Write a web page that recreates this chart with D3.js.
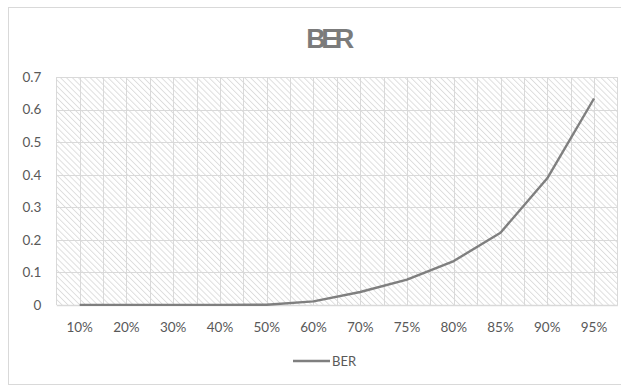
<!DOCTYPE html>
<html>
<head>
<meta charset="utf-8">
<script src="https://cdn.jsdelivr.net/npm/d3@7"></script>
<style>
  html, body { margin: 0; padding: 0; background: #fff; }
  svg { display: block; }
</style>
</head>
<body>
<svg id="chart" width="621" height="386"></svg>
<script>
// Bit error rate against load level
const categories = ["10%", "20%", "30%", "40%", "50%", "60%", "70%", "75%", "80%", "85%", "90%", "95%"];
const berValues = [0.0005, 0.0005, 0.0005, 0.0005, 0.0008, 0.011, 0.04, 0.078, 0.135, 0.222, 0.389, 0.634];
const yTicks = [0, 0.1, 0.2, 0.3, 0.4, 0.5, 0.6, 0.7];
const seriesName = "BER";

const svg = d3.select("#chart");
const plot = { left: 56.3, right: 617.4, top: 77, bottom: 305 };
const font = "Lato, 'Liberation Sans', sans-serif";
const textColor = "#595959";
const gridColor = "#d9d9d9";

// chart frame (runs past the right edge)
svg.append("rect")
  .attr("x", 8.5).attr("y", 7.5)
  .attr("width", 620).attr("height", 377)
  .attr("fill", "#fff").attr("stroke", "#d9d9d9").attr("stroke-width", 1);

// diagonal hatch fill
const defs = svg.append("defs");
const pat = defs.append("pattern")
  .attr("id", "hatch")
  .attr("patternUnits", "userSpaceOnUse")
  .attr("width", 4.2).attr("height", 4.2)
  .attr("patternTransform", "rotate(-45)");
pat.append("rect").attr("width", 4.2).attr("height", 4.2).attr("fill", "#fff");
pat.append("line")
  .attr("x1", 0).attr("y1", 0).attr("x2", 0).attr("y2", 4.2)
  .attr("stroke", "#dcdcdc").attr("stroke-width", 1.8);

const x = d3.scaleBand()
  .domain(categories)
  .range([plot.left, plot.right])
  .paddingInner(0).paddingOuter(0);

const y = d3.scaleLinear()
  .domain([0, 0.7])
  .range([plot.bottom, plot.top]);

svg.append("rect")
  .attr("x", plot.left).attr("y", plot.top)
  .attr("width", plot.right - plot.left)
  .attr("height", plot.bottom - plot.top)
  .attr("fill", "url(#hatch)");

// vertical gridlines: category boundaries and centers
const vLines = [];
categories.forEach(c => {
  vLines.push(x(c));
  vLines.push(x(c) + x.bandwidth() / 2);
});
vLines.push(plot.right);
svg.append("g")
  .selectAll("line")
  .data(vLines)
  .join("line")
  .attr("x1", d => Math.round(d) + 0.5).attr("x2", d => Math.round(d) + 0.5)
  .attr("y1", plot.top).attr("y2", plot.bottom)
  .attr("stroke", gridColor).attr("stroke-width", 1);

// horizontal gridlines
svg.append("g")
  .selectAll("line")
  .data(yTicks.filter(t => t > 0))
  .join("line")
  .attr("x1", plot.left).attr("x2", plot.right)
  .attr("y1", d => Math.round(y(d)) + 0.5).attr("y2", d => Math.round(y(d)) + 0.5)
  .attr("stroke", gridColor).attr("stroke-width", 1);

// y axis labels
const yAxis = d3.axisLeft(y)
  .tickValues(yTicks)
  .tickFormat(d => d === 0 ? "0" : d3.format(".1f")(d))
  .tickSize(0).tickPadding(15);
const gy = svg.append("g")
  .attr("transform", `translate(${plot.left},0)`)
  .call(yAxis);
gy.select(".domain").remove();
gy.selectAll("text")
  .attr("fill", textColor)
  .style("font-family", font)
  .style("font-size", "13.5px");

// x axis
const xAxis = d3.axisBottom(x).tickSize(0).tickPadding(17);
const gx = svg.append("g")
  .attr("transform", `translate(0,${plot.bottom})`)
  .call(xAxis);
gx.select(".domain").attr("stroke", gridColor).attr("stroke-width", 1.5);
gx.selectAll("text")
  .attr("fill", textColor)
  .style("font-family", font)
  .style("font-size", "13.5px");

// data line
const line = d3.line()
  .x((d, i) => x(categories[i]) + x.bandwidth() / 2)
  .y(d => y(d));
svg.append("path")
  .datum(berValues)
  .attr("fill", "none")
  .attr("stroke", "#7f7f7f")
  .attr("stroke-width", 2.4)
  .attr("stroke-linejoin", "round")
  .attr("d", line);

// title
svg.append("text")
  .attr("x", 328).attr("y", 48)
  .attr("text-anchor", "middle")
  .attr("fill", "#7b7b7b")
  .style("font-family", "'Liberation Sans', Arial, sans-serif")
  .style("font-weight", "bold")
  .style("font-size", "27px")
  .style("letter-spacing", "-4.5px")
  .text(seriesName);

// legend
const lg = svg.append("g");
lg.append("line")
  .attr("x1", 293).attr("x2", 330)
  .attr("y1", 361).attr("y2", 361)
  .attr("stroke", "#7f7f7f").attr("stroke-width", 2.4);
lg.append("text")
  .attr("x", 332).attr("y", 366)
  .attr("fill", textColor)
  .style("font-family", font)
  .style("font-size", "13px")
  .text(seriesName);
</script>
</body>
</html>
